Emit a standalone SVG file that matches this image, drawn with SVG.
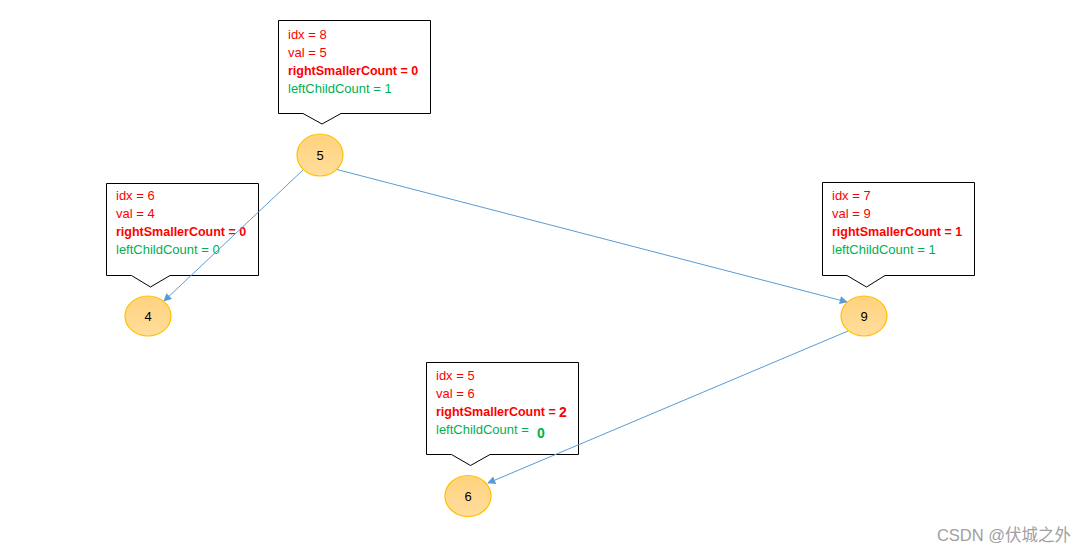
<svg xmlns="http://www.w3.org/2000/svg" width="1086" height="553" viewBox="0 0 1086 553">
<style>
.callout{fill:#fff;stroke:#000;stroke-width:1}
.node{fill:url(#ng);stroke:#FFC000;stroke-width:1.2}
.t{font-family:"Liberation Sans",Arial,sans-serif;font-size:13px}
.r{fill:#FF0000}
.b{font-weight:bold;font-size:12.5px}
.g{fill:#00B050}
.lbl{font-family:"Liberation Sans",Arial,sans-serif;font-size:13px;fill:#000;text-anchor:middle}
.edge{stroke:#5B9BD5;stroke-width:1;fill:none;marker-end:url(#ah)}
</style>
<defs>
<linearGradient id="ng" x1="0" y1="0" x2="0" y2="1">
<stop offset="0" stop-color="#FFD37E"/>
<stop offset="1" stop-color="#FFDD9C"/>
</linearGradient>
<marker id="ah" viewBox="0 0 10 10" refX="9" refY="5" markerWidth="10" markerHeight="8" markerUnits="userSpaceOnUse" orient="auto">
<path d="M0,0 L10,5 L0,10 Z" fill="#5B9BD5"/>
</marker>
</defs>
<rect width="1086" height="553" fill="#fff"/>

<g id="callout-8">
<path class="callout" d="M278.5,20.5 H430.5 V113.5 H341 L322,124 L303,113.5 H278.5 Z"/>
<text class="t r" x="288" y="39">idx = 8</text>
<text class="t r" x="288" y="57">val = 5</text>
<text class="t r b" x="288" y="75">rightSmallerCount = 0</text>
<text class="t g" x="288" y="93">leftChildCount = 1</text>
</g>

<g id="callout-6">
<path class="callout" d="M106.5,183.5 H258.5 V275.5 H170 L150.5,287 L131.5,275.5 H106.5 Z"/>
<text class="t r" x="116" y="200">idx = 6</text>
<text class="t r" x="116" y="218">val = 4</text>
<text class="t r b" x="116" y="236">rightSmallerCount = 0</text>
<text class="t g" x="116" y="254">leftChildCount = 0</text>
</g>

<g id="callout-7">
<path class="callout" d="M822.5,182.5 H974.5 V275.5 H885 L866.5,287 L847,275.5 H822.5 Z"/>
<text class="t r" x="832" y="200">idx = 7</text>
<text class="t r" x="832" y="218">val = 9</text>
<text class="t r b" x="832" y="236">rightSmallerCount = 1</text>
<text class="t g" x="832" y="254">leftChildCount = 1</text>
</g>

<g id="callout-5">
<path class="callout" d="M426.5,362.5 H578.5 V454.5 H490 L470.5,465.5 L451.5,454.5 H426.5 Z"/>
<text class="t r" x="436" y="380">idx = 5</text>
<text class="t r" x="436" y="398">val = 6</text>
<text class="t r b" x="436" y="416">rightSmallerCount =</text>
<text class="r" x="559" y="417" style="font-family:'Liberation Sans',Arial,sans-serif;font-size:14px;font-weight:bold">2</text>
<text class="t g" x="436" y="434">leftChildCount =</text>
<text class="g" x="537" y="438" style="font-family:'Liberation Sans',Arial,sans-serif;font-size:14px;font-weight:bold">0</text>
</g>

<g id="connectors">
<line class="edge" x1="303" y1="170" x2="164" y2="301"/>
<line class="edge" x1="335" y1="169" x2="847" y2="302"/>
<line class="edge" x1="848" y1="331" x2="488" y2="483"/>
</g>

<g id="node-5">
<ellipse class="node" cx="320" cy="155" rx="23" ry="21"/>
<text class="lbl" x="320" y="160">5</text>
</g>
<g id="node-4">
<ellipse class="node" cx="148" cy="316" rx="23" ry="20"/>
<text class="lbl" x="148" y="321">4</text>
</g>
<g id="node-9">
<ellipse class="node" cx="864" cy="316" rx="23" ry="20"/>
<text class="lbl" x="864" y="321">9</text>
</g>
<g id="node-6">
<ellipse class="node" cx="468" cy="496" rx="23" ry="20.5"/>
<text class="lbl" x="468" y="501">6</text>
</g>

<text x="1071" y="541" text-anchor="end" style="font-family:'Liberation Sans','Noto Sans CJK SC',sans-serif;font-size:16.5px;fill:#A0A0A0">CSDN @伏城之外</text>
</svg>
